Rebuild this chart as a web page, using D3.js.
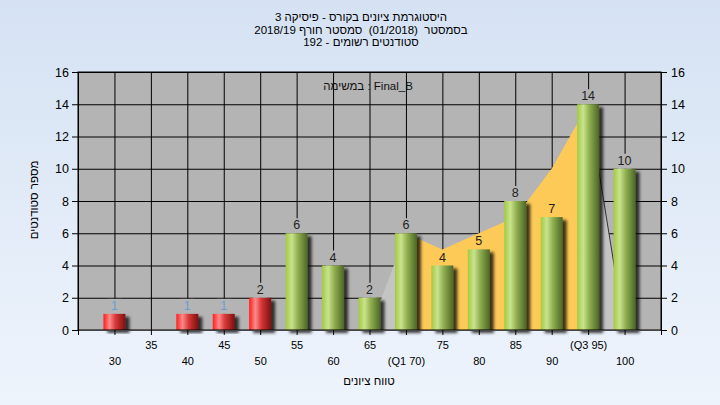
<!DOCTYPE html>
<html><head><meta charset="utf-8">
<script src="https://cdn.jsdelivr.net/npm/d3@7/dist/d3.min.js"></script>
<style>
html,body{margin:0;padding:0;background:#e4edf8;}
svg{display:block;font-family:"Liberation Sans",Arial,sans-serif;}
.pre{white-space:pre;}
</style></head>
<body>
<svg id="chart" width="720" height="405"></svg>
<script>
// ---- data ----
const categories = [30,35,40,45,50,55,60,65,70,75,80,85,90,95,100];
const counts     = [1, 0, 1, 1, 2, 6, 4, 2, 6, 4, 5, 8, 7, 14,10];
const tickLabels = ["30","35","40","45","50","55","60","65","(Q1 70)","75","80","85","90","(Q3 95)","100"];
const passGrade = 55;
const areaCategories = [65,70,75,80,85,90,95,100];
const areaValues     = [0, 6, 5, 6, 7, 10,14,0];
const q1 = 70, q3 = 95;
const yTicks = [0,2,4,6,8,10,12,14,16];
const titleLines = ["היסטוגרמת ציונים בקורס - פיסיקה 3","בסמסטר  (01/2018)  סמסטר חורף 2018/19","סטודנטים רשומים - 192"];
const legendText = "במשימה : Final_B";
const xTitle = "טווח ציונים";
const yTitle = "מספר סטודנטים";

// ---- layout ----
const W = 720, H = 405;
const L = 78, R = 661, T = 72, B = 330;
const svg = d3.select("#chart");
const defs = svg.append("defs");

const bg = defs.append("linearGradient").attr("id","bg").attr("x1",0).attr("y1",0).attr("x2",0).attr("y2",1);
bg.append("stop").attr("offset","0%").attr("stop-color","#d5e2f3");
bg.append("stop").attr("offset","100%").attr("stop-color","#eef4fc");

function barGrad(id, c0, c1, c2, c3){
  const g = defs.append("linearGradient").attr("id",id).attr("x1",0).attr("y1",0).attr("x2",1).attr("y2",0);
  g.append("stop").attr("offset","0%").attr("stop-color",c0);
  g.append("stop").attr("offset","28%").attr("stop-color",c1);
  g.append("stop").attr("offset","55%").attr("stop-color",c2);
  g.append("stop").attr("offset","100%").attr("stop-color",c3);
}
barGrad("gGreen","#a2ca40","#c9e38e","#91b050","#4c6626");
barGrad("gRed","#ff1c1c","#ff8a8a","#d83838","#7c1010");

const sh = defs.append("filter").attr("id","shadow").attr("x","-20%").attr("y","-10%").attr("width","160%").attr("height","130%");
sh.append("feDropShadow").attr("dx",4).attr("dy",3).attr("stdDeviation",1.8).attr("flood-color","#000").attr("flood-opacity",0.75);

svg.append("rect").attr("width",W).attr("height",H).attr("fill","url(#bg)");

const x = d3.scaleLinear().domain([25,105]).range([L,R]);
const y = d3.scaleLinear().domain([0,16]).range([B,T]);
const bw = 22;

// plot background
svg.append("rect").attr("x",L).attr("y",T).attr("width",R-L).attr("height",B-T).attr("fill","#b4b4b4");

// grid
const gridX = d3.range(25,106,5);
svg.append("g").attr("transform",`translate(0,${B})`)
  .call(d3.axisBottom(x).tickValues(gridX).tickSize(-(B-T)).tickFormat(""))
  .call(g=>{g.select(".domain").remove(); g.selectAll("line").attr("stroke","#000");});
svg.append("g").attr("transform",`translate(${L},0)`)
  .call(d3.axisLeft(y).tickValues(yTicks).tickSize(-(R-L)).tickFormat(""))
  .call(g=>{g.select(".domain").remove(); g.selectAll("line").attr("stroke","#000");});

// label masks (hide vertical grid behind value labels)
const bars = categories.map((c,i)=>({c, v:counts[i], label: tickLabels[i]}));
svg.append("g").selectAll("rect").data(bars.filter(d=>d.v>0)).join("rect")
  .attr("x",d=>x(d.c)-7).attr("y",d=>y(d.v)-15).attr("width",14).attr("height",15)
  .attr("fill","#b4b4b4");

// area (distribution), coloured by quartile range
const areaData = areaCategories.map((c,i)=>({c, v:areaValues[i]}));
const area = d3.area().x(d=>x(d.c)).y0(y(0)).y1(d=>y(d.v));
const segs = [
  {data: areaData.filter(d=>d.c<=q1), fill:"#c4c4c4"},
  {data: areaData.filter(d=>d.c>=q1 && d.c<=q3), fill:"#fdca58"},
  {data: areaData.filter(d=>d.c>=q3), fill:"#c4c4c4"}
];
svg.append("g").selectAll("path").data(segs).join("path")
  .attr("d",d=>area(d.data)).attr("fill",d=>d.fill);
svg.append("path").attr("d", d3.line().x(d=>x(d.c)).y(d=>y(d.v))(areaData.filter(d=>d.c>=q3)))
  .attr("fill","none").attr("stroke","#333").attr("stroke-width",1);

// bars
svg.append("g").selectAll("rect").data(bars.filter(d=>d.v>0)).join("rect")
  .attr("x",d=>x(d.c)-bw/2).attr("y",d=>y(d.v)).attr("width",bw).attr("height",d=>y(0)-y(d.v))
  .attr("fill",d=>d.c<passGrade?"url(#gRed)":"url(#gGreen)")
  .attr("filter","url(#shadow)");

// value labels
svg.append("g").selectAll("text").data(bars.filter(d=>d.v>0)).join("text")
  .attr("x",d=>x(d.c)).attr("y",d=>y(d.v)-4)
  .attr("text-anchor","middle").attr("font-size",12.5)
  .attr("fill",d=>d.v===1?"#6a9ed0":"#222")
  .text(d=>d.v);

// borders
svg.append("rect").attr("x",L).attr("y",T).attr("width",R-L).attr("height",B-T)
  .attr("fill","none").attr("stroke","#000");

// axes
const axStyle = g=>{g.selectAll("text").attr("fill","#000").attr("font-family","Liberation Sans, Arial, sans-serif");
  g.selectAll("line").attr("stroke","#000"); g.select(".domain").attr("stroke","#000");};
svg.append("g").attr("transform",`translate(${L},0)`)
  .call(d3.axisLeft(y).tickValues(yTicks).tickSize(6).tickPadding(3).tickSizeOuter(0))
  .call(axStyle).call(g=>g.selectAll("text").attr("font-size",12.5));
svg.append("g").attr("transform",`translate(${R},0)`)
  .call(d3.axisRight(y).tickValues(yTicks).tickSize(6).tickPadding(4).tickSizeOuter(0))
  .call(axStyle).call(g=>g.selectAll("text").attr("font-size",12.5));

const lab = d3.scaleOrdinal().domain(categories).range(tickLabels);
svg.append("g").attr("transform",`translate(0,${B})`)
  .call(d3.axisBottom(x).tickValues(gridX).tickSize(5).tickFormat("").tickSizeOuter(0))
  .call(axStyle).call(g=>g.select(".domain").attr("stroke","#444"));
svg.append("g").attr("transform",`translate(0,${B})`)
  .call(d3.axisBottom(x).tickValues(categories.filter((c,i)=>i%2===1)).tickSize(0).tickPadding(11).tickFormat(lab))
  .call(axStyle).call(g=>{g.select(".domain").remove(); g.selectAll("text").attr("font-size",11);});
svg.append("g").attr("transform",`translate(0,${B})`)
  .call(d3.axisBottom(x).tickValues(categories.filter((c,i)=>i%2===0)).tickSize(0).tickPadding(27).tickFormat(lab))
  .call(axStyle).call(g=>{g.select(".domain").remove(); g.selectAll("text").attr("font-size",11);});

// titles
svg.append("g").selectAll("text").data(titleLines).join("text")
  .attr("class","pre")
  .attr("x",361).attr("y",(d,i)=>21+i*12.5).attr("text-anchor","middle")
  .attr("font-size",11.5).attr("fill","#000").text(d=>d);
svg.append("text").attr("x",368).attr("y",90).attr("text-anchor","middle")
  .attr("font-size",11.5).attr("fill","#111").text(legendText);
svg.append("text").attr("x",369).attr("y",385).attr("text-anchor","middle")
  .attr("font-size",11.5).attr("fill","#000").text(xTitle);
svg.append("text").attr("transform","translate(38,200) rotate(-90)").attr("text-anchor","middle")
  .attr("font-size",11.5).attr("fill","#000").text(yTitle);
</script>
</body></html>
